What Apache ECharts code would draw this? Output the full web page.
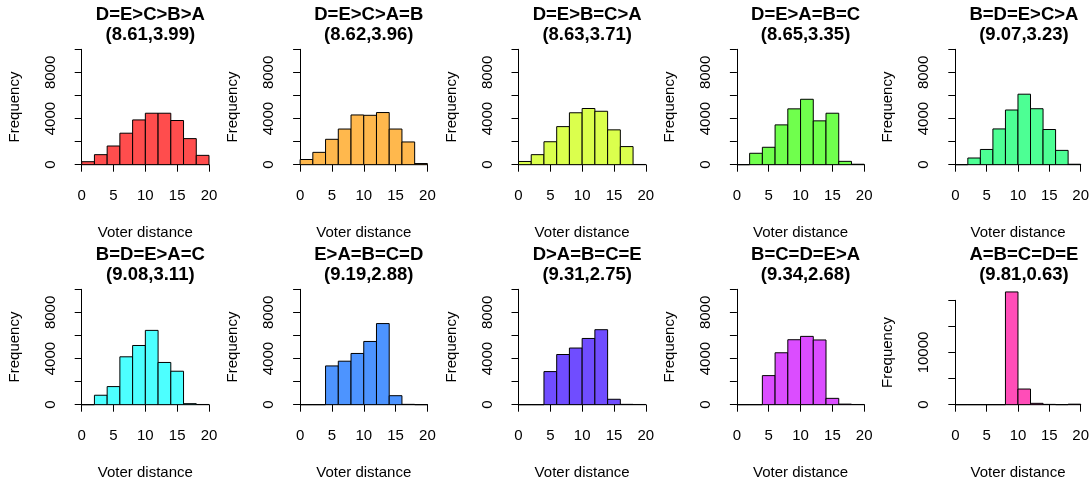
<!DOCTYPE html>
<html>
<head>
<meta charset="utf-8">
<script src="https://cdn.jsdelivr.net/npm/echarts@6/dist/echarts.min.js"></script>
<style>
  html, body { margin: 0; padding: 0; background: #ffffff; }
  #chart { width: 1092px; height: 485px; }
</style>
</head>
<body>
<div id="chart"></div>
<script>
// Histogram bin edges (Voter distance)
const binStarts = [0, 2, 4, 6, 8, 10, 12, 14, 16, 18];
const binEnds   = [2, 4, 6, 8, 10, 12, 14, 16, 18, 20];

// Panel titles and (mean, sd) subtitles
const panelTitles = ['D=E>C>B>A', 'D=E>C>A=B', 'D=E>B=C>A', 'D=E>A=B=C', 'B=D=E>C>A',
                     'B=D=E>A=C', 'E>A=B=C=D', 'D>A=B=C=E', 'B=C=D=E>A', 'A=B=C=D=E'];
const panelStats  = ['(8.61,3.99)', '(8.62,3.96)', '(8.63,3.71)', '(8.65,3.35)', '(9.07,3.23)',
                     '(9.08,3.11)', '(9.19,2.88)', '(9.31,2.75)', '(9.34,2.68)', '(9.81,0.63)'];

// Frequencies per bin, one array per panel
const freq1  = [260, 870, 1620, 2730, 3880, 4460, 4460, 3830, 2260, 810];
const freq2  = [450, 1070, 2200, 3090, 4310, 4280, 4520, 3090, 1970, 100];
const freq3  = [280, 870, 1990, 3300, 4500, 4870, 4630, 3020, 1570, 20];
const freq4  = [0, 990, 1510, 3450, 4840, 5670, 3800, 4460, 290, 40];
const freq5  = [0, 580, 1320, 3100, 4740, 6110, 4850, 3050, 1240, 40];
const freq6  = [0, 820, 1570, 4150, 5130, 6440, 3660, 2900, 90, 20];
const freq7  = [0, 0, 3360, 3770, 4440, 5480, 7030, 780, 30, 0];
const freq8  = [0, 0, 2870, 4350, 4910, 5740, 6500, 470, 30, 20];
const freq9  = [0, 0, 2520, 4500, 5630, 5920, 5610, 550, 50, 20];
const freq10 = [0, 0, 0, 0, 21600, 3000, 260, 60, 10, 100];

// Axis tick settings
const xTicks = [0, 5, 10, 15, 20];
const yMaxDefault = 10000, yStepDefault = 2000, yLabelsDefault = [0, 4000, 8000];
const yMaxLast = 20000, yStepLast = 5000, yLabelsLast = [0, 10000];

const panelColors = ['#FF4D4D', '#FFB84D', '#DBFF4D', '#70FF4D', '#4DFF94',
                     '#4DFFFF', '#4D94FF', '#704DFF', '#DB4DFF', '#FF4DB8'];
const allFreq = [freq1, freq2, freq3, freq4, freq5, freq6, freq7, freq8, freq9, freq10];

const FONT = "'Liberation Sans', Arial, Helvetica, sans-serif";
const colW = 218.4, rowH = 240;
const plotLeft0 = 81.7, plotW = 127.3;
const plotTop0 = 49.3, plotH = 115.4;

const grids = [], xAxes = [], yAxes = [], series = [], titles = [];
for (let i = 0; i < 10; i++) {
  const c = i % 5, r = Math.floor(i / 5);
  const isLast = i === 9;
  const yMax = isLast ? yMaxLast : yMaxDefault;
  const yStep = isLast ? yStepLast : yStepDefault;
  const yLabels = isLast ? yLabelsLast : yLabelsDefault;
  const zeroY = plotTop0 + plotH + r * rowH;
  const h = isLast ? 104.4 : plotH;
  grids.push({ left: plotLeft0 + c * colW, width: plotW, top: zeroY - h, height: h });
  xAxes.push({
    type: 'value', gridIndex: i, min: xTicks[0], max: xTicks[xTicks.length - 1],
    interval: xTicks[1] - xTicks[0], offset: 5,
    name: 'Voter distance', nameLocation: 'middle', nameGap: 56,
    nameTextStyle: { fontFamily: FONT, fontSize: 15, color: '#000' },
    axisLine: { show: true, lineStyle: { color: '#000', width: 1 } },
    axisTick: { show: true, length: 7, lineStyle: { color: '#000', width: 1 } },
    axisLabel: { fontFamily: FONT, fontSize: 15, color: '#000', margin: 19 },
    splitLine: { show: false }
  });
  yAxes.push({
    type: 'value', gridIndex: i, min: 0, max: yMax, interval: yStep, offset: 4.6,
    name: 'Frequency', nameLocation: 'middle', nameGap: 55, nameRotate: 90,
    nameTextStyle: { fontFamily: FONT, fontSize: 15, color: '#000' },
    axisLine: { show: true, lineStyle: { color: '#000', width: 1 } },
    axisTick: { show: true, length: 7, lineStyle: { color: '#000', width: 1 } },
    axisLabel: {
      fontFamily: FONT, fontSize: 15, color: '#000', rotate: 90, margin: 19,
      formatter: function (v) { return yLabels.indexOf(v) >= 0 ? String(v) : ''; }
    },
    splitLine: { show: false }
  });
  const color = panelColors[i];
  series.push({
    type: 'custom', xAxisIndex: i, yAxisIndex: i, clip: false,
    encode: { x: [0, 1], y: 2 },
    data: binStarts.map((b, k) => [b, binEnds[k], allFreq[i][k]]),
    renderItem: function (params, api) {
      const p0 = api.coord([api.value(0), api.value(2)]);
      const p1 = api.coord([api.value(1), 0]);
      return {
        type: 'rect',
        shape: { x: p0[0], y: p0[1], width: p1[0] - p0[0], height: p1[1] - p0[1] },
        style: { fill: color, stroke: '#000', lineWidth: 1 }
      };
    }
  });
  titles.push({
    text: panelTitles[i] + '\n' + panelStats[i],
    left: plotLeft0 + c * colW + plotW / 2, top: 0 + r * rowH, textAlign: 'center',
    textStyle: { fontFamily: FONT, fontSize: 18.5, fontWeight: 'bold', color: '#000', lineHeight: 20 }
  });
}

const chart = echarts.init(document.getElementById('chart'), null, { renderer: 'canvas' });
chart.setOption({
  animation: false,
  backgroundColor: '#ffffff',
  title: titles,
  grid: grids,
  xAxis: xAxes,
  yAxis: yAxes,
  series: series
});
</script>
</body>
</html>
